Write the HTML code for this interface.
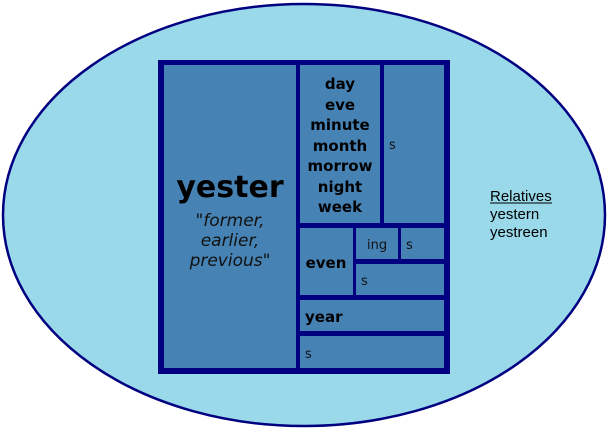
<!DOCTYPE html>
<html><head><style>body{margin:0;background:#fff}</style></head><body>
<svg width="608" height="430" xmlns="http://www.w3.org/2000/svg" font-family="DejaVu Sans, sans-serif">
<ellipse cx="304" cy="215" rx="301" ry="211" fill="#99d9ea" stroke="#000080" stroke-width="2.5"/>
<rect x="158" y="60" width="292" height="314" fill="#000080"/>
<g fill="#4682b4">
<rect x="164" y="65" width="132" height="303"/>
<rect x="300" y="65" width="80" height="158"/>
<rect x="384" y="65" width="60" height="158"/>
<rect x="300" y="228" width="53" height="67"/>
<rect x="356" y="228" width="42" height="31"/>
<rect x="401" y="228" width="43" height="31"/>
<rect x="356" y="264" width="88" height="31"/>
<rect x="300" y="300" width="144" height="31"/>
<rect x="300" y="336" width="144" height="32"/>
</g>
<text x="230" y="197" font-size="30" font-weight="bold" text-anchor="middle">yester</text>
<g font-size="17" font-style="italic" text-anchor="middle" fill="#111">
<text x="230" y="226">"former,</text><text x="230" y="246">earlier,</text><text x="230" y="266">previous"</text>
</g>
<g font-size="15" font-weight="bold" text-anchor="middle">
<text x="340" y="89">day</text><text x="340" y="110">eve</text><text x="340" y="130">minute</text><text x="340" y="151">month</text><text x="340" y="171">morrow</text><text x="340" y="192">night</text><text x="340" y="212">week</text>
<text x="326" y="268">even</text>
</g>
<text x="305" y="322" font-size="15" font-weight="bold">year</text>
<g font-size="13" fill="#111">
<text x="389" y="149">s</text>
<text x="367" y="249">ing</text>
<text x="406" y="249">s</text>
<text x="361" y="285">s</text>
<text x="305" y="358">s</text>
</g>
<g font-family="Liberation Sans, sans-serif" font-size="15">
<text x="490" y="201">Relatives</text>
<text x="490" y="219">yestern</text>
<text x="490" y="237">yestreen</text>
</g>
<line x1="490" y1="203" x2="552" y2="203" stroke="#000" stroke-width="1"/>
</svg>
</body></html>
